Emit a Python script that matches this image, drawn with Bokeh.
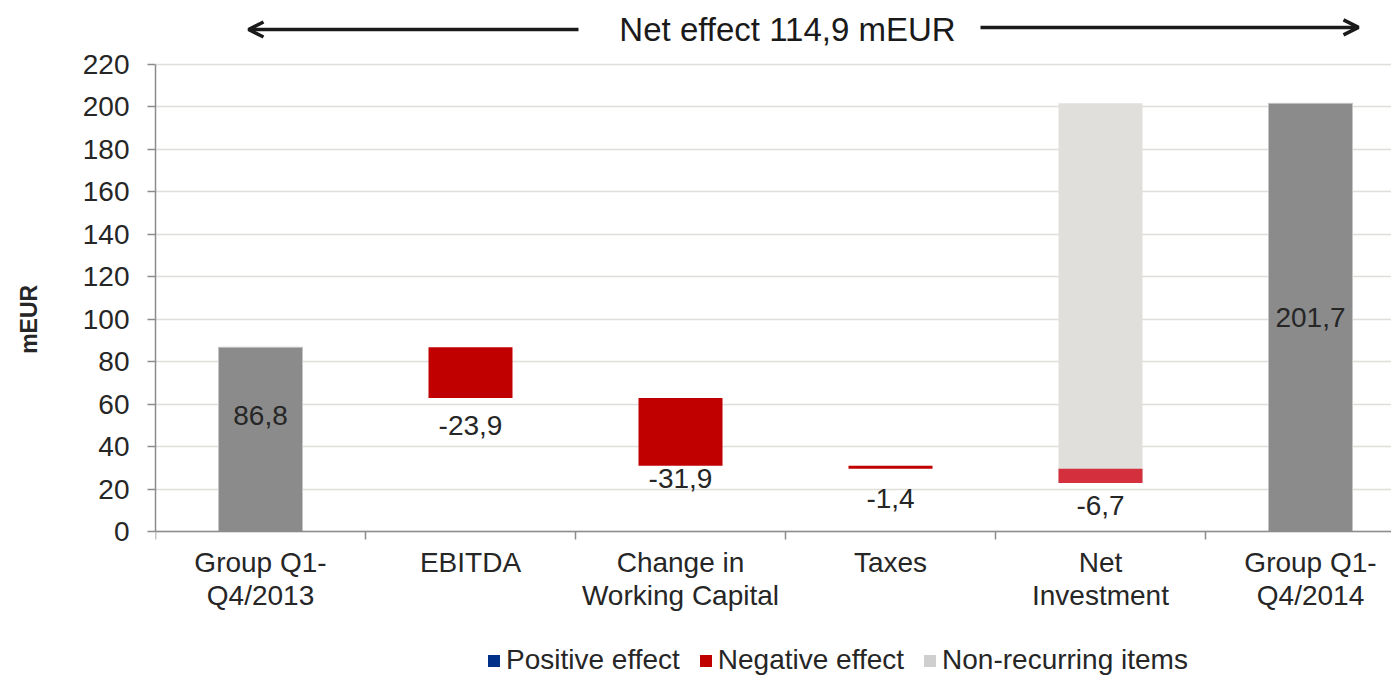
from bokeh.plotting import figure
from bokeh.models import (Range1d, FixedTicker, Arrow, OpenHead, Label, Legend,
                          LegendItem, ColumnDataSource)
from bokeh.embed import file_html
from bokeh.resources import INLINE
from bokeh.core.properties import value

# ---------------- data ----------------
categories = ["Group Q1-\nQ4/2013", "EBITDA", "Change in\nWorking Capital",
              "Taxes", "Net\nInvestment", "Group Q1-\nQ4/2014"]
start_value = 86.8
effects = [-23.9, -31.9, -1.4, -6.7]          # EBITDA, WC, Taxes, Net investment
non_recurring = 178.8                          # Net investment, non-recurring items
end_value = 201.7
net_effect_text = "Net effect 114,9 mEUR"
y_title = "mEUR"
y_ticks = list(range(0, 221, 20))
legend_labels = ["Positive effect", "Negative effect", "Non-recurring items"]

FONT = "Liberation Sans"
TXT = "#262626"
GRAY_BAR = "#8b8b8c"
RED = "#c00000"
RED_LIGHT = "#d32f3c"
NONREC = "#e0dfdc"
FS = "28px"

def fmt(v):
    return f"{v:.1f}".replace(".", ",")

# ---------------- layout constants ----------------
CAT_W = 210.0           # px per category
LEFT = 155
FIG_W, FIG_H = 1391, 676
FRAME_W = FIG_W - LEFT
PX_PER_UNIT = 467 / 220.0
ZERO_PX = 531           # y of value 0 from figure top

p = figure(width=FIG_W, height=FIG_H, output_backend="svg", toolbar_location=None,
           x_range=Range1d(0, FRAME_W / CAT_W),
           y_range=Range1d(-(FIG_H - ZERO_PX) / PX_PER_UNIT, ZERO_PX / PX_PER_UNIT),
           min_border_left=LEFT, min_border_right=0, min_border_top=0,
           min_border_bottom=0)
p.outline_line_color = None
p.background_fill_color = "white"
p.border_fill_color = "white"

# ---------------- bars ----------------
centers = [i + 0.5 for i in range(len(categories))]
W = 0.4

tot = ColumnDataSource(dict(x=[centers[0], centers[-1]], top=[start_value, end_value],
                            bottom=[0, 0]))
p.vbar(x="x", top="top", bottom="bottom", width=W, source=tot,
       fill_color=GRAY_BAR, line_color="#c4c4c4", line_width=1)

level = start_value
nx, ntop, nbot, ncol = [], [], [], []
for i, e in enumerate(effects):
    new = level + e
    nx.append(centers[i + 1]); ntop.append(level); nbot.append(new)
    ncol.append(RED if i < 3 else RED_LIGHT)
    level = new
after_effects = level

p.vbar(x=[centers[4]], bottom=[after_effects], top=[after_effects + non_recurring],
       width=W, fill_color=NONREC, line_color=None)

neg = ColumnDataSource(dict(x=nx, top=ntop, bottom=nbot, color=ncol))
p.vbar(x="x", top="top", bottom="bottom", width=W, source=neg,
       fill_color="color", line_color=None)

# ---------------- value labels ----------------
lab_x = [centers[0]] + nx + [centers[-1]]
lab_y = [start_value / 2] + nbot + [end_value / 2]
lab_t = [fmt(start_value)] + [fmt(e) for e in effects] + [fmt(end_value)]
lab_off = [-24, 28, 13, 30, 23, 0]
p.text(x=lab_x, y=lab_y, text=lab_t, y_offset=lab_off,
       text_font=value(FONT), text_font_size=FS, text_color=TXT,
       text_align="center", text_baseline="middle")

# ---------------- axes ----------------
yax = p.yaxis[0]
yax.ticker = FixedTicker(ticks=y_ticks)
yax.bounds = (0, 220)
yax.axis_line_color = "#8c8c8c"
yax.axis_line_width = 1.5
yax.major_tick_line_color = "#8c8c8c"
yax.major_tick_line_width = 1.5
yax.major_tick_out = 8
yax.major_tick_in = 0
yax.minor_tick_line_color = None
yax.major_label_standoff = 18
yax.major_label_text_font = FONT
yax.major_label_text_font_size = FS
yax.major_label_text_color = TXT
# leading no-break spaces lift the rotated title slightly above the frame centre
yax.axis_label = "\u00a0" * 6 + y_title
yax.axis_label_text_font = FONT
yax.axis_label_text_font_size = "23px"
yax.axis_label_text_font_style = "bold"
yax.axis_label_text_color = TXT
yax.axis_label_standoff = 38

xax = p.xaxis[0]
xax.fixed_location = 0
xax.ticker = FixedTicker(ticks=centers, minor_ticks=list(range(0, len(categories))))
xax.major_label_overrides = {c: lab for c, lab in zip(centers, categories)}
xax.axis_line_color = "#8c8c8c"
xax.axis_line_width = 1.5
xax.major_tick_line_color = None
xax.major_tick_out = 0
xax.major_tick_in = 0
xax.minor_tick_line_color = "#8c8c8c"
xax.minor_tick_line_width = 1.5
xax.minor_tick_out = 8
xax.minor_tick_in = 0
xax.major_label_standoff = 7
xax.major_label_text_font = FONT
xax.major_label_text_font_size = FS
xax.major_label_text_line_height = 1.07
xax.major_label_text_color = TXT

p.xgrid.visible = False
p.ygrid.ticker = FixedTicker(ticks=y_ticks)
p.ygrid.grid_line_color = "#e0dedb"
p.ygrid.grid_line_width = 1.5

# ---------------- net effect header ----------------
y_hdr = (ZERO_PX - 29) / PX_PER_UNIT
p.add_layout(Label(x=(787 - LEFT) / CAT_W, y=y_hdr, text=net_effect_text, text_font=FONT,
                   text_font_size="33px", text_color="#1a1a1a",
                   text_align="center", text_baseline="middle"))
p.add_layout(Arrow(end=OpenHead(size=15, line_width=3.5, line_color="#1a1a1a"),
                   x_start=(578 - LEFT) / CAT_W, y_start=y_hdr,
                   x_end=(248 - LEFT) / CAT_W, y_end=y_hdr,
                   line_width=3.5, line_color="#1a1a1a"))
p.add_layout(Arrow(end=OpenHead(size=15, line_width=3.5, line_color="#1a1a1a"),
                   x_start=(980 - LEFT) / CAT_W, y_start=y_hdr + 1,
                   x_end=(1358 - LEFT) / CAT_W, y_end=y_hdr + 1,
                   line_width=3.5, line_color="#1a1a1a"))

# ---------------- legend ----------------
leg_colors = ["#003087", RED, "#cfcfcf"]
items = []
for lbl, col in zip(legend_labels, leg_colors):
    # zero-size dummy renderer, only used for its legend swatch
    r = p.quad(left=[0], right=[0], top=[0], bottom=[0], fill_color=col, line_color=None)
    items.append(LegendItem(label=lbl, renderers=[r]))
legend = Legend(items=items, orientation="horizontal", location=(331, 0),
                border_line_color=None, background_fill_alpha=0,
                label_text_font=FONT, label_text_font_size=FS,
                label_text_color=TXT, glyph_width=15, glyph_height=15,
                label_standoff=5, spacing=18, padding=0, margin=0)
p.add_layout(legend, "center")

open("out.html", "w").write(file_html(p, INLINE))
